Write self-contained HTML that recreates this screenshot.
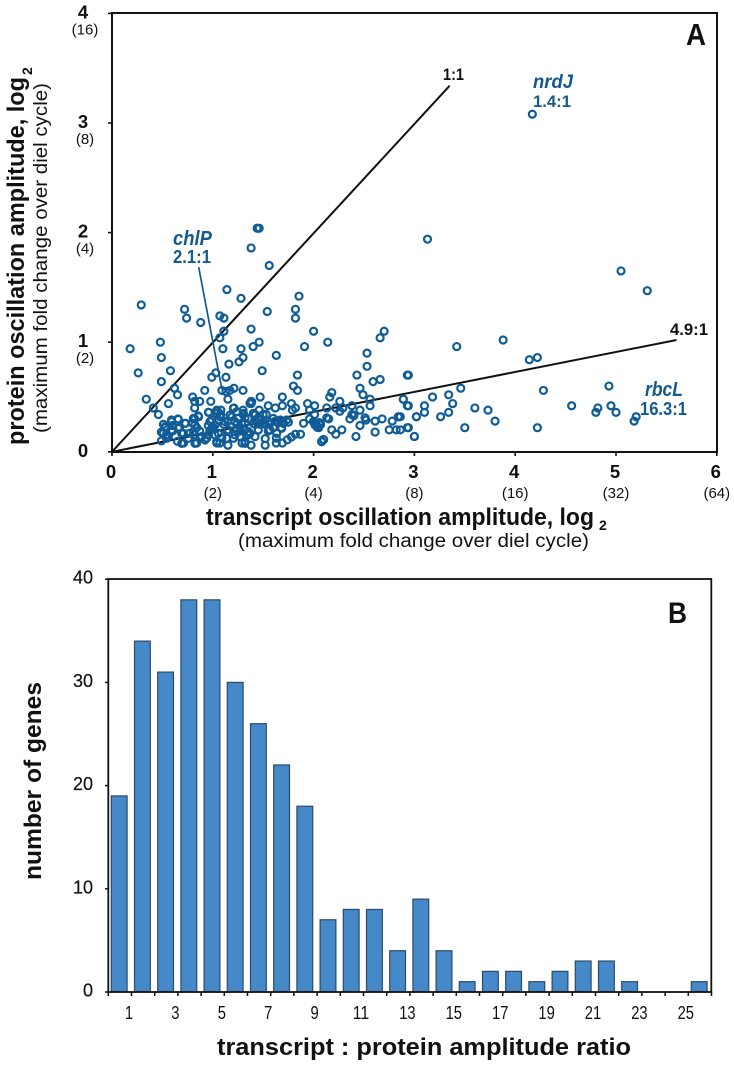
<!DOCTYPE html>
<html lang="en">
<head>
<meta charset="utf-8">
<title>Transcript and protein oscillation amplitude</title>
<style>
html,body{margin:0;padding:0;background:#fff;}
svg{display:block;font-family:"Liberation Sans",sans-serif;}
</style>
</head>
<body>
<svg id="figure" width="734" height="1066" viewBox="0 0 734 1066" xmlns="http://www.w3.org/2000/svg">
  <g id="panelA">
    <rect x="112" y="13" width="605" height="439" fill="none" stroke="#111" stroke-width="2"/>
    <g id="aGuides"></g>
    <g id="aPoints"></g>
    <g id="aTicks"></g>
    <text x="686" y="45" font-size="31" font-weight="700" fill="#111" textLength="20" lengthAdjust="spacingAndGlyphs">A</text>
    <text x="443" y="80" font-size="17" font-weight="700" fill="#111" textLength="21" lengthAdjust="spacingAndGlyphs">1:1</text>
    <text x="670" y="335" font-size="17" font-weight="700" fill="#111" textLength="38" lengthAdjust="spacingAndGlyphs">4.9:1</text>
    <text x="533" y="88" font-size="19" font-weight="700" font-style="italic" fill="#14598f" textLength="40" lengthAdjust="spacingAndGlyphs">nrdJ</text>
    <text x="533" y="107" font-size="17" font-weight="700" fill="#14598f" textLength="38" lengthAdjust="spacingAndGlyphs">1.4:1</text>
    <text x="173" y="245" font-size="20" font-weight="700" font-style="italic" fill="#14598f" textLength="39" lengthAdjust="spacingAndGlyphs">chlP</text>
    <text x="173" y="263" font-size="18" font-weight="700" fill="#14598f" textLength="38" lengthAdjust="spacingAndGlyphs">2.1:1</text>
    <text x="645" y="396" font-size="20" font-weight="700" font-style="italic" fill="#14598f" textLength="38" lengthAdjust="spacingAndGlyphs">rbcL</text>
    <text x="640" y="415" font-size="18" font-weight="700" fill="#14598f" textLength="47" lengthAdjust="spacingAndGlyphs">16.3:1</text>
    <text x="206" y="525" font-size="24" font-weight="700" fill="#111" textLength="388" lengthAdjust="spacingAndGlyphs">transcript oscillation amplitude, log</text>
    <text x="599" y="530" font-size="14" font-weight="700" fill="#111">2</text>
    <text x="238" y="547" font-size="19" fill="#111" textLength="351" lengthAdjust="spacingAndGlyphs">(maximum fold change over diel cycle)</text>
    <text transform="translate(24,445) rotate(-90)" font-size="24" font-weight="700" fill="#111" textLength="368" lengthAdjust="spacingAndGlyphs">protein oscillation amplitude, log</text>
    <text transform="translate(32,75) rotate(-90)" font-size="14" font-weight="700" fill="#111">2</text>
    <text transform="translate(47,433) rotate(-90)" font-size="19" fill="#111" textLength="350" lengthAdjust="spacingAndGlyphs">(maximum fold change over diel cycle)</text>
  </g>
  <g id="panelB">
    <g id="bBars"></g>
    <rect x="108.3" y="579" width="603" height="413" fill="none" stroke="#111" stroke-width="1.8"/>
    <g id="bTicks"></g>
    <text x="668" y="623" font-size="30" font-weight="700" fill="#111" textLength="19" lengthAdjust="spacingAndGlyphs">B</text>
    <text x="217" y="1055" font-size="24" font-weight="700" fill="#111" textLength="414" lengthAdjust="spacingAndGlyphs">transcript :  protein amplitude ratio</text>
    <text transform="translate(41,880) rotate(-90)" font-size="24" font-weight="700" fill="#111" textLength="198" lengthAdjust="spacingAndGlyphs">number of genes</text>
  </g>
</svg>
<script>
var pointsX = [4.17,1.44,1.46,1.38,1.56,3.13,5.05,5.31,1.14,1.28,1.855,
0.29,0.72,0.74,0.88,1.07,1.11,1.54,1.82,1.82,1.11,1.07,1.38,2.0,2.70,2.66,0.48,2.14,1.46,1.40,1.91,0.18,1.10,1.28,2.53,1.63,0.49,1.30,1.26,1.16,2.53,0.58,1.49,1.03,0.26,0.99,1.13,1.84,2.43,2.93,2.66,2.59,0.49,1.80,0.62,1.84,2.46,0.92,1.30,1.21,1.17,1.09,1.13,0.65,2.49,2.18,2.16,0.80,0.34,1.69,1.47,1.15,2.56,2.89,0.56,0.82,0.87,0.98,1.38,1.38,1.94,2.26,1.78,1.69,1.55,2.01,2.93,2.56,2.38,0.41,0.82,1.21,1.30,1.82,1.62,2.22,2.29,2.13,2.46,2.26,1.79,0.46,0.96,1.04,1.08,1.46,1.53,1.96,2.38,3.02,
3.88,3.42,4.14,4.22,2.94,3.46,4.28,4.93,2.89,3.18,3.34,3.38,2.94,3.10,3.10,3.34,3.26,3.02,3.60,3.73,3.80,3.50,4.22,2.94,3.00,4.56,4.82,4.80,4.95,5.00,5.20,5.18,2.86,2.86,
0.51,0.53,0.49,0.54,0.59,0.60,0.655,0.67,0.69,0.73,0.71,0.65,0.49,0.56,0.60,
0.82,0.86,0.80,0.84,0.87,0.82,0.77,0.84,0.94,0.89,
0.955,0.99,1.04,1.08,1.055,1.005,0.97,1.02,1.04,1.07,1.09,
1.15,1.11,1.14,1.15,1.19,1.24,1.27,1.22,1.29,1.32,1.38,1.35,1.30,1.32,1.27,
1.42,1.45,1.50,1.42,1.47,1.52,1.57,1.62,1.67,1.70,1.75,1.68,1.60,1.55,1.52,1.52,1.63,1.63,1.69,1.74,1.78,1.82,1.87,
1.90,1.96,2.01,2.01,2.03,2.05,2.07,2.10,2.08,2.13,2.15,2.18,2.22,2.28,
2.36,2.42,2.46,2.51,2.52,2.61,2.61,2.68,2.75,2.78,2.82,2.84,2.93,3.00,2.40,
0.526,0.509,0.542,0.592,0.592,0.658,0.658,0.724,0.708,0.757,0.691,0.807,0.823,0.856,0.807,0.873,0.823,0.956,0.972,0.989,0.956,0.923,1.045,1.071,1.022,1.055,1.038,1.121,1.171,1.204,1.154,1.138,1.253,1.303,1.319,1.237,1.27,1.319,1.369,1.402,1.435,1.353,1.419,
1.237,1.303,1.22,1.286,1.352,1.237,1.319,1.402,1.419,1.468,1.204,1.27,1.369,1.452,1.501,1.551,1.6,1.65,1.7,1.567,1.634,1.683,1.733,1.386,1.369,1.997,2.014,2.037,2.064,2.057,2.08,2.097];
var pointsY = [3.08,2.04,2.04,1.86,1.70,1.94,1.65,1.47,1.48,1.40,1.42,
1.34,1.30,1.22,1.18,1.24,1.22,1.28,1.30,1.22,1.10,1.04,1.12,1.10,1.10,1.04,1.00,1.00,1.00,0.96,0.96,0.94,0.94,0.94,0.90,0.88,0.86,0.86,0.82,0.80,0.78,0.74,0.74,0.72,0.72,0.68,0.68,0.70,0.70,0.70,0.66,0.64,0.64,0.60,0.58,0.56,0.58,0.56,0.56,0.58,0.56,0.56,0.55,0.52,0.52,0.54,0.50,0.50,0.48,0.50,0.50,0.48,0.48,0.48,0.44,0.46,0.46,0.46,0.46,0.44,0.44,0.46,0.44,0.42,0.42,0.42,0.42,0.42,0.42,0.40,0.40,0.40,0.38,0.40,0.40,0.40,0.40,0.40,0.38,0.37,0.38,0.34,0.36,0.38,0.38,0.38,0.34,0.38,0.34,0.32,
1.02,0.96,0.84,0.86,0.70,0.58,0.56,0.60,0.48,0.50,0.52,0.44,0.42,0.42,0.36,0.36,0.32,0.32,0.40,0.38,0.28,0.22,0.22,0.22,0.14,0.42,0.40,0.36,0.42,0.36,0.32,0.28,0.32,0.20,
0.25,0.22,0.18,0.155,0.29,0.24,0.30,0.22,0.17,0.26,0.08,0.095,0.10,0.14,0.19,
0.30,0.32,0.26,0.22,0.19,0.155,0.17,0.08,0.125,0.14,
0.24,0.29,0.35,0.34,0.29,0.22,0.19,0.155,0.08,0.08,0.125,
0.06,0.25,0.19,0.28,0.32,0.25,0.19,0.155,0.08,0.095,0.06,0.155,0.34,0.31,0.22,
0.34,0.31,0.34,0.25,0.25,0.25,0.26,0.28,0.29,0.26,0.27,0.22,0.22,0.19,0.12,0.06,0.125,0.08,0.08,0.11,0.135,0.16,0.16,
0.26,0.30,0.34,0.26,0.24,0.22,0.25,0.11,0.095,0.31,0.30,0.20,0.16,0.20,
0.30,0.14,0.24,0.31,0.29,0.18,0.28,0.30,0.20,0.28,0.20,0.32,0.22,0.14,0.33,
0.229,0.168,0.123,0.275,0.199,0.296,0.214,0.26,0.168,0.123,0.077,0.305,0.245,0.327,0.184,0.123,0.077,0.36,0.275,0.214,0.153,0.108,0.375,0.32,0.245,0.168,0.092,0.275,0.336,0.397,0.199,0.123,0.305,0.351,0.26,0.214,0.138,0.077,0.442,0.351,0.275,0.184,0.138,
0.366,0.351,0.275,0.26,0.305,0.199,0.199,0.26,0.336,0.29,0.123,0.138,0.168,0.199,0.26,0.275,0.305,0.275,0.26,0.199,0.168,0.214,0.29,0.457,0.442,0.275,0.245,0.223,0.245,0.266,0.092,0.113];
var xTickValues = [0,1,2,3,4,5,6];
var xTickLabels = ['0','1','2','3','4','5','6'];
var xFoldLabels = ['','(2)','(4)','(8)','(16)','(32)','(64)'];
var yTickValues = [0,1,2,3,4];
var yTickLabels = ['0','1','2','3','4'];
var yFoldLabels = ['','(2)','(4)','(8)','(16)'];
var lineOneToOneEnd = [3.35,3.34];
var lineFourNineEnd = [5.6,1.02];
var chlpLeaderStart = [0.86,1.685];
var chlpLeaderEnd = [1.09,0.57];
var ratioCategories = [1,2,3,4,5,6,7,8,9,10,11,12,13,14,15,16,17,18,19,20,21,22,23,24,25,26];
var geneCounts = [19,34,31,38,38,30,26,22,18,7,8,8,4,9,4,1,2,2,1,2,3,3,1,0,0,1];
var histogramYTicks = [0,10,20,30,40];
var histogramXLabels = [1,3,5,7,9,11,13,15,17,19,21,23,25];

var NS = 'http://www.w3.org/2000/svg';
function xA(v){return 112 + v * 100.8;}
function yA(v){return 451.8 - v * 109.6;}
function slotLeft(c){return 108.3 + (c - 1) * 23.2;}
function barCenter(c){return slotLeft(c) + 10.9;}
function yB(v){return 992 - v * 10.32;}
function make(tag, attrs, parent, txt){
  var el = document.createElementNS(NS, tag);
  for (var k in attrs) el.setAttribute(k, attrs[k]);
  if (txt !== undefined) el.textContent = txt;
  parent.appendChild(el);
  return el;
}
var guides = document.getElementById('aGuides');
var g1 = make('line',{x1:xA(0),y1:yA(0),x2:xA(lineOneToOneEnd[0]),y2:yA(lineOneToOneEnd[1]),stroke:'#111','stroke-width':2},guides);


var g2 = make('line',{x1:xA(0),y1:yA(0),x2:xA(lineFourNineEnd[0]),y2:yA(lineFourNineEnd[1]),stroke:'#111','stroke-width':2},guides);


var g3 = make('line',{x1:xA(chlpLeaderStart[0]),y1:yA(chlpLeaderStart[1]),x2:xA(chlpLeaderEnd[0]),y2:yA(chlpLeaderEnd[1]),stroke:'#14598f','stroke-width':1.7},guides);



var pts = document.getElementById('aPoints');
pointsX.forEach(function(x,i){
  var c = make('circle',{cx:xA(x),cy:yA(pointsY[i]),r:3.5,fill:'none',stroke:'#105c96','stroke-width':2.2},pts);
  
  
});

var aT = document.getElementById('aTicks');
xTickValues.forEach(function(v,i){
  var t = make('line',{x1:xA(v),y1:452,x2:xA(v),y2:456,stroke:'#111','stroke-width':1.6},aT);
  
  
  var l = make('text',{x:xA(v)-1,y:478,'font-size':18.5,'font-weight':700,fill:'#111','text-anchor':'middle'},aT,xTickLabels[i]);
  
  
  if (xFoldLabels[i]) {
    var f = make('text',{x:xA(v),y:498,'font-size':15,fill:'#111','text-anchor':'middle'},aT,xFoldLabels[i]);
    
    
  }
});
yTickValues.forEach(function(v,i){
  var t = make('line',{x1:108,y1:yA(v),x2:112,y2:yA(v),stroke:'#111','stroke-width':1.6},aT);
  
  
  var l = make('text',{x:83,y:yA(v)+5,'font-size':18.5,'font-weight':700,fill:'#111','text-anchor':'middle'},aT,yTickLabels[i]);
  
  
  if (yFoldLabels[i]) {
    var f = make('text',{x:85,y:yA(v)+21,'font-size':15,fill:'#111','text-anchor':'middle'},aT,yFoldLabels[i]);
    
    
  }
});

var bars = document.getElementById('bBars');
ratioCategories.forEach(function(c,i){
  if (geneCounts[i] <= 0) return;
  var r = make('rect',{x:barCenter(c)-7.9,y:yB(geneCounts[i]),width:15.8,height:992-yB(geneCounts[i]),fill:'#4689c9',stroke:'#2b4a68','stroke-width':1.2},bars);
  
  
});
var bT = document.getElementById('bTicks');
for (var s = 1; s <= ratioCategories.length + 1; s++) {
  var tk = make('line',{x1:slotLeft(s),y1:992,x2:slotLeft(s),y2:996,stroke:'#111','stroke-width':1.5},bT);
  
  
}
histogramXLabels.forEach(function(c){
  var txt = String(c);
  var l = make('text',{x:barCenter(c)+9.8,y:1019,'font-size':18,fill:'#111','text-anchor':'middle',textLength:8.2*txt.length,lengthAdjust:'spacingAndGlyphs'},bT,txt);
  
  
});
histogramYTicks.forEach(function(v){
  var t = make('line',{x1:105,y1:yB(v),x2:108.3,y2:yB(v),stroke:'#111','stroke-width':1.5},bT);
  
  
  var txt = String(v);
  var l = make('text',{x:93,y:yB(v)+4.5,'font-size':18,fill:'#111','text-anchor':'end',stroke:'#111','stroke-width':0.2},bT,txt);
  
  
});
</script>
</body>
</html>
